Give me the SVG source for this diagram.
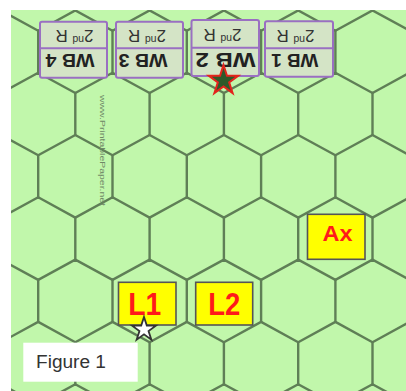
<svg xmlns="http://www.w3.org/2000/svg" width="406" height="391" viewBox="0 0 406 391">
  <style>
    .grid { fill: none; stroke: #5f7f56; stroke-width: 2.4; stroke-linejoin: round; }
    .wb-box { fill: #d4e4c6; stroke: #9a6fc2; stroke-width: 2; }
    .wb-div { stroke: #9a6fc2; stroke-width: 2; }
    .wb-name { font-family: "Liberation Sans", Arial, sans-serif; font-weight: bold; fill: #222; text-anchor: middle; }
    .wb-sub { font-family: "Liberation Sans", Arial, sans-serif; font-size: 17px; fill: #333; text-anchor: middle; }
    .unit-box { fill: #ffff00; stroke: #555; stroke-width: 1.6; }
    .unit-label { font-family: "Liberation Sans", Arial, sans-serif; font-weight: bold; fill: #ff1a1a; text-anchor: middle; }
  </style>
  <defs>
    <clipPath id="board-clip">
      <rect x="11" y="10" width="395" height="381"/>
    </clipPath>
  </defs>

  <!-- page margin and board -->
  <rect x="0" y="0" width="406" height="391" fill="#ffffff"/>
  <rect x="11" y="10" width="395" height="381" fill="#c1f7ab"/>

  <!-- hex grid -->
  <g id="hex-grid" class="grid" clip-path="url(#board-clip)">
    <!-- zigzag rows -->
    <polyline points="1,10.4 38.2,30.7 75.3,10.4 112.5,30.7 149.6,10.4 186.8,30.7 223.9,10.4 261.1,30.7 298.2,10.4 335.4,30.7 372.5,10.4 409.7,30.7"/>
    <polyline points="1,93 38.2,72.7 75.3,93 112.5,72.7 149.6,93 186.8,72.7 223.9,93 261.1,72.7 298.2,93 335.4,72.7 372.5,93 409.7,72.7"/>
    <polyline points="1,135 38.2,155.3 75.3,135 112.5,155.3 149.6,135 186.8,155.3 223.9,135 261.1,155.3 298.2,135 335.4,155.3 372.5,135 409.7,155.3"/>
    <polyline points="1,217.6 38.2,197.3 75.3,217.6 112.5,197.3 149.6,217.6 186.8,197.3 223.9,217.6 261.1,197.3 298.2,217.6 335.4,197.3 372.5,217.6 409.7,197.3"/>
    <polyline points="1,259.6 38.2,279.9 75.3,259.6 112.5,279.9 149.6,259.6 186.8,279.9 223.9,259.6 261.1,279.9 298.2,259.6 335.4,279.9 372.5,259.6 409.7,279.9"/>
    <polyline points="1,342.2 38.2,321.9 75.3,342.2 112.5,321.9 149.6,342.2 186.8,321.9 223.9,342.2 261.1,321.9 298.2,342.2 335.4,321.9 372.5,342.2 409.7,321.9"/>
    <polyline points="1,384.2 38.2,404.5 75.3,384.2 112.5,404.5 149.6,384.2 186.8,404.5 223.9,384.2 261.1,404.5 298.2,384.2 335.4,404.5 372.5,384.2 409.7,404.5"/>
    <!-- vertical sides -->
    <path d="M38.2,30.7V72.7 M112.5,30.7V72.7 M186.8,30.7V72.7 M261.1,30.7V72.7 M335.4,30.7V72.7
             M75.3,93V135 M149.6,93V135 M223.9,93V135 M298.2,93V135 M372.5,93V135
             M38.2,155.3V197.3 M112.5,155.3V197.3 M186.8,155.3V197.3 M261.1,155.3V197.3 M335.4,155.3V197.3
             M75.3,217.6V259.6 M149.6,217.6V259.6 M223.9,217.6V259.6 M298.2,217.6V259.6 M372.5,217.6V259.6
             M38.2,279.9V321.9 M112.5,279.9V321.9 M186.8,279.9V321.9 M261.1,279.9V321.9 M335.4,279.9V321.9
             M75.3,342.2V384.2 M149.6,342.2V384.2 M223.9,342.2V384.2 M298.2,342.2V384.2 M372.5,342.2V384.2"/>
  </g>

  <!-- site mark -->
  <g id="watermark">
    <text transform="translate(100,95) rotate(90)" font-family="Liberation Sans, Arial, sans-serif" font-size="8" fill="#6f8866" textLength="111" lengthAdjust="spacingAndGlyphs">www.PrintablePaper.net</text>
  </g>

  <!-- upside-down WB counters -->
  <g id="wb4" transform="translate(40,21.7) rotate(180 33.5 28)">
    <rect class="wb-box" x="0" y="0" width="67" height="56" rx="2"/>
    <line class="wb-div" x1="0" y1="29.5" x2="67" y2="29.5"/>
    <text class="wb-name" x="37" y="23.3" font-size="18.5" textLength="49" lengthAdjust="spacingAndGlyphs">WB 4</text>
    <text class="wb-sub" x="32.5" y="47.5">2<tspan font-size="10.5" dy="-6">nd</tspan><tspan dy="6"> R</tspan></text>
  </g>
  <g id="wb3" transform="translate(116,21.7) rotate(180 33.5 28)">
    <rect class="wb-box" x="0" y="0" width="67" height="56" rx="2"/>
    <line class="wb-div" x1="0" y1="29.5" x2="67" y2="29.5"/>
    <text class="wb-name" x="40" y="23.3" font-size="18.5" textLength="49" lengthAdjust="spacingAndGlyphs">WB 3</text>
    <text class="wb-sub" x="36" y="47.5">2<tspan font-size="10.5" dy="-6">nd</tspan><tspan dy="6"> R</tspan></text>
  </g>
  <g id="wb2" transform="translate(191.5,20) rotate(180 33.75 28)">
    <rect class="wb-box" x="0" y="0" width="67.5" height="56" rx="2"/>
    <line class="wb-div" x1="0" y1="28.3" x2="67.5" y2="28.3"/>
    <text class="wb-name" x="33.5" y="23.5" font-size="20.5" textLength="60" lengthAdjust="spacingAndGlyphs">WB 2</text>
    <text class="wb-sub" x="36.5" y="47.5">2<tspan font-size="10.5" dy="-6">nd</tspan><tspan dy="6"> R</tspan></text>
  </g>
  <g id="wb1" transform="translate(265,21.2) rotate(180 34 27.75)">
    <rect class="wb-box" x="0" y="0" width="68" height="55.5" rx="2"/>
    <line class="wb-div" x1="0" y1="28.5" x2="68" y2="28.5"/>
    <text class="wb-name" x="38.3" y="23" font-size="18.5" textLength="47" lengthAdjust="spacingAndGlyphs">WB 1</text>
    <text class="wb-sub" x="37.5" y="47">2<tspan font-size="10.5" dy="-6">nd</tspan><tspan dy="6"> R</tspan></text>
  </g>

  <!-- objective star under WB 2 -->
  <g id="star-objective">
    <polygon points="223.5,65 226.98,75.71 238.24,75.71 229.13,82.33 232.61,93.04 223.5,86.42 214.39,93.04 217.87,82.33 208.76,75.71 220.02,75.71" fill="#2e5a2a" stroke="#e3241c" stroke-width="2" stroke-linejoin="miter"/>
  </g>

  <!-- yellow units -->
  <g id="ax">
    <rect class="unit-box" x="307.5" y="214.3" width="57.5" height="45"/>
    <text class="unit-label" x="337.5" y="240.7" font-size="22" textLength="30" lengthAdjust="spacingAndGlyphs">Ax</text>
  </g>
  <g id="l1">
    <rect class="unit-box" x="118.5" y="282.3" width="57.5" height="42.7"/>
    <text class="unit-label" x="144.7" y="315" font-size="32" textLength="33" lengthAdjust="spacingAndGlyphs">L1</text>
  </g>
  <g id="l2">
    <rect class="unit-box" x="195.7" y="282.3" width="57" height="42.7"/>
    <text class="unit-label" x="224.2" y="315" font-size="32" textLength="32" lengthAdjust="spacingAndGlyphs">L2</text>
  </g>

  <!-- white star at the L1 hex corner -->
  <g id="star-start">
    <polygon points="144,317 146.81,325.64 155.89,325.64 148.54,330.98 151.35,339.61 144,334.28 136.65,339.61 139.46,330.98 132.11,325.64 141.19,325.64" fill="#ffffff" stroke="#333" stroke-width="1.8" stroke-linejoin="miter"/>
  </g>

  <!-- caption -->
  <g id="figure-label">
    <rect x="23.3" y="342.7" width="114.4" height="39" fill="#ffffff"/>
    <text x="36" y="368.3" font-family="Liberation Sans, Arial, sans-serif" font-size="18" fill="#333" textLength="70" lengthAdjust="spacingAndGlyphs">Figure 1</text>
  </g>
</svg>
